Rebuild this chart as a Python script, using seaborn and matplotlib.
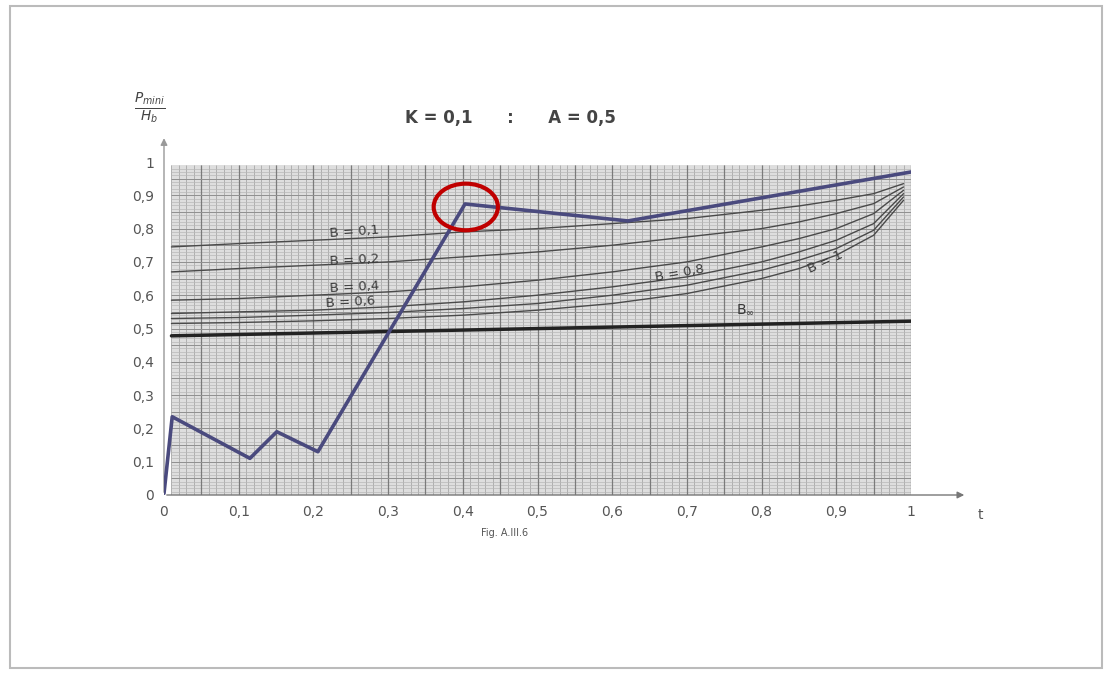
import numpy as np
import matplotlib.pyplot as plt
import matplotlib.patches as mpatches
import seaborn as sns

# main polyline
main_x = [0.0, 0.011, 0.115, 0.151, 0.206, 0.403, 0.621, 1.0]
main_y = [0.005, 0.235, 0.11, 0.19, 0.13, 0.874, 0.823, 0.97]

# B = inf line (slightly tilted in the scan)
binf_x = [0.01, 1.0]
binf_y = [0.478, 0.522]

# family of B curves
curve_x = [0.01, 0.1, 0.2, 0.3, 0.4, 0.5, 0.6, 0.7, 0.8, 0.85, 0.9, 0.95, 0.99]
curves = {
    "B = 0,1": [0.745, 0.755, 0.765, 0.775, 0.79, 0.80, 0.815, 0.83, 0.855, 0.868, 0.885, 0.905, 0.935],
    "B = 0,2": [0.67, 0.68, 0.69, 0.70, 0.715, 0.73, 0.75, 0.775, 0.80, 0.82, 0.845, 0.875, 0.925],
    "B = 0,4": [0.585, 0.59, 0.60, 0.61, 0.625, 0.645, 0.67, 0.70, 0.745, 0.77, 0.80, 0.845, 0.915],
    "B = 0,6": [0.545, 0.55, 0.555, 0.565, 0.58, 0.60, 0.625, 0.655, 0.70, 0.73, 0.765, 0.815, 0.905],
    "B = 0,8": [0.53, 0.533, 0.54, 0.548, 0.56, 0.575, 0.60, 0.63, 0.675, 0.705, 0.74, 0.795, 0.895],
    "B = 1": [0.515, 0.518, 0.523, 0.53, 0.54, 0.555, 0.575, 0.605, 0.65, 0.68, 0.72, 0.78, 0.885],
}
# label positions / rotation for curve labels
label_pos = {
    "B = 0,1": (0.255, 0.79, 4),
    "B = 0,2": (0.255, 0.705, 3),
    "B = 0,4": (0.255, 0.625, 3),
    "B = 0,6": (0.25, 0.578, 3),
    "B = 0,8": (0.69, 0.667, 10),
    "B = 1": (0.885, 0.70, 25),
}

ticks = [0, 0.1, 0.2, 0.3, 0.4, 0.5, 0.6, 0.7, 0.8, 0.9, 1]
tick_labels = ["0", "0,1", "0,2", "0,3", "0,4", "0,5", "0,6", "0,7", "0,8", "0,9", "1"]

sns.set_style("white")
plt.rcParams['font.family'] = ['DejaVu Sans']

fig = plt.figure(figsize=(11.1, 6.73), dpi=100)
ax = fig.add_axes([164 / 1110, (673 - 495) / 673, 747 / 1110, 333 / 673])
ax.set_xlim(0, 1)
ax.set_ylim(0, 1)

# graph paper background
ax.add_patch(mpatches.Rectangle((0.01, 0), 0.99, 0.99, facecolor="#dedede", edgecolor="none", zorder=0))
fine = np.arange(0.01, 1.0001, 0.01)
ax.vlines(fine, 0, 0.99, color="#a8a8a8", lw=0.6, zorder=1)
ax.hlines(np.arange(0.0, 0.99, 0.01), 0.01, 1.0, color="#b8b8b8", lw=0.5, zorder=1)
ax.vlines(np.arange(0.05, 1.0001, 0.05), 0, 0.99, color="#7a7a7a", lw=0.9, zorder=1)
ax.hlines(np.arange(0.05, 0.99, 0.05), 0.01, 1.0, color="#909090", lw=0.7, zorder=1)

for name, ys in curves.items():
    sns.lineplot(x=curve_x, y=ys, ax=ax, color="#4a4a4a", lw=1.0, sort=False, zorder=3)
    lx, ly, rot = label_pos[name]
    ax.text(lx, ly, name, fontsize=9.5, color="#3a3a3a", rotation=rot, ha="center", va="center", zorder=4)

sns.lineplot(x=binf_x, y=binf_y, ax=ax, color="#222222", lw=2.5, sort=False, zorder=4)
ax.text(0.778, 0.555, r"B$_{\infty}$", fontsize=10, color="#3a3a3a", ha="center", va="center", zorder=4)

sns.lineplot(x=main_x, y=main_y, ax=ax, color="#4a4a7e", lw=2.6, sort=False, zorder=5)

# red circle highlight
ax.add_patch(mpatches.Ellipse((0.404, 0.865), 0.086, 0.14, facecolor="none", edgecolor="#c00000", lw=3, zorder=6))

# axes arrows
ax.annotate("", xy=(0.0, 1.08), xytext=(0.0, 0.0), annotation_clip=False,
            arrowprops=dict(arrowstyle="-|>", color="#999999", lw=1.0))
ax.annotate("", xy=(1.075, 0.0), xytext=(0.0, 0.0), annotation_clip=False,
            arrowprops=dict(arrowstyle="-|>", color="#777777", lw=1.0))

for s in ax.spines.values():
    s.set_visible(False)
ax.set_xticks(ticks)
ax.set_xticklabels(tick_labels)
ax.set_yticks(ticks)
ax.set_yticklabels(tick_labels)
ax.tick_params(axis="both", colors="#555555", labelsize=10, length=3, width=0.8, pad=4)
ax.set_xlabel("")
ax.set_ylabel("")

fig.text(510 / 1110, 1 - 118 / 673, "K = 0,1      :      A = 0,5", fontsize=12, color="#444444",
         ha="center", va="center", fontweight="bold")
fig.text(150 / 1110, 1 - 108 / 673, r"$\frac{P_{mini}}{H_b}$", fontsize=14, color="#444444",
         ha="center", va="center")
fig.text(505 / 1110, 1 - 533 / 673, "Fig. A.III.6", fontsize=7, color="#555555", ha="center", va="center")
fig.text(980 / 1110, 1 - 515 / 673, "t", fontsize=10, color="#555555", ha="center", va="center")

# page frame
fig.patches.append(mpatches.Rectangle((10 / 1110, 5 / 673), 1092 / 1110, 662 / 673, transform=fig.transFigure,
                                      facecolor="none", edgecolor="#bbbbbb", lw=1.5))

fig.savefig("out.png", dpi=100)
